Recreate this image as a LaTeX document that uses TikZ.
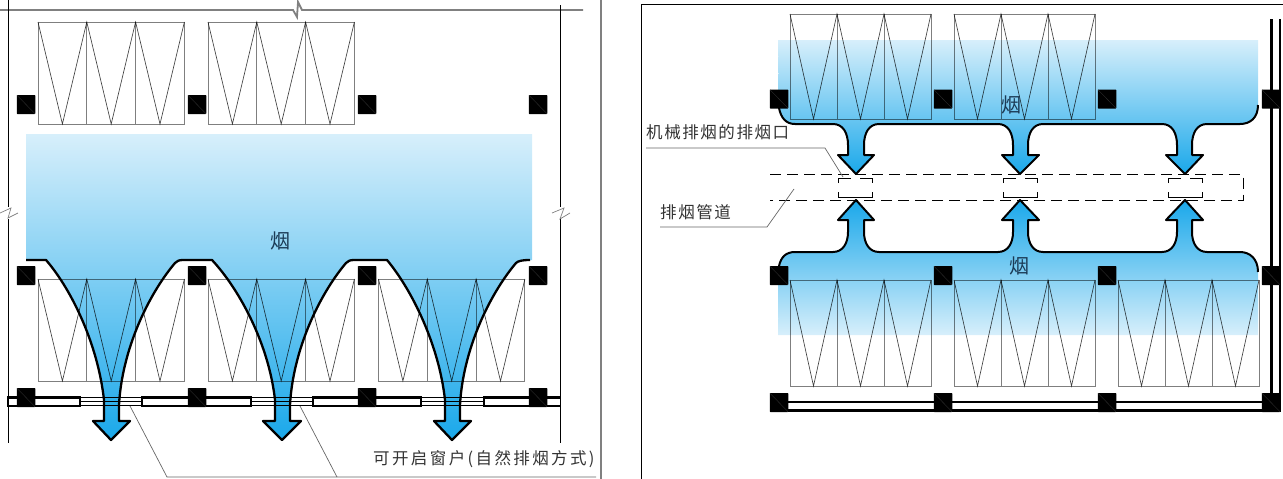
\documentclass[tikz,border=0pt]{standalone}
\usepackage{fontspec}
\newfontfamily\cjkfont{Noto Sans CJK SC}
\newfontfamily\cjklabel[LetterSpace=9.5]{Noto Sans CJK SC}
\newfontfamily\cjkwide[LetterSpace=14.5]{Noto Sans CJK SC}
\definecolor{smoketop}{HTML}{D7EFFB}
\definecolor{smokebot}{HTML}{1AA8EA}
\definecolor{frameline}{HTML}{808080}
\definecolor{smoketext}{HTML}{1B3A55}
\tikzset{
pillar/.style={fill=black,inner sep=0pt,minimum width=18.5pt,minimum height=19pt,rounded corners=0.6pt,
  path picture={\draw[black!82!white,line width=0.4pt] (path picture bounding box.north west)--(path picture bounding box.south east);}},
cabline/.style={black,draw opacity=0.5,line width=0.9pt},
zigline/.style={black,draw opacity=0.75,line width=0.65pt},
smokeline/.style={black,line width=2.3pt,line join=round},
wallline/.style={black,line width=2.4pt},
thinline/.style={black,line width=0.6pt},
leaderline/.style={black!60,line width=0.7pt},
dashline/.style={black,line width=0.9pt,dash pattern=on 11pt off 6pt},
labeltext/.style={inner sep=0pt,font=\cjklabel\fontsize{16.5}{18}\selectfont,text=black!80},
smoketxt/.style={inner sep=0pt,font=\cjkfont\fontsize{20}{20}\selectfont,text=smoketext}
}
% one cabinet row: left, top, half panel width, height
\newcommand{\cabinet}[4]{
\begin{scope}[shift={(#1,#2)},x=#3pt,y=-#4pt]
\draw[cabline] (0,0) rectangle (6,1);\draw[cabline] (2,0)--(2,1);\draw[cabline] (4,0)--(4,1);
\draw[zigline] (0,0)--(1,1)--(2,0)--(3,1)--(4,0)--(5,1)--(6,0);
\end{scope}}
% lower edge of the smoke in the left half
\newcommand{\smokeleft}{(26,260)--(46,260)
.. controls (72,290) and (98,345) .. (104,400)--(104,421)--(93,421)--(111,440)--(130,421)--(119,421)--(119,405)
.. controls (122,350) and (148,295) .. (175,263) .. controls (177,261) and (179,260) .. (183,260)--(212,260)
.. controls (240,290) and (269,345) .. (275,400)--(275,421)--(263,421)--(282,440)--(301,421)--(290,421)--(290,405)
.. controls (293,350) and (319,295) .. (346,263) .. controls (348,261) and (350,260) .. (354,260)--(387,260)
.. controls (412,290) and (439,345) .. (445,400)--(445,421)--(434,421)--(452,440)--(471,421)--(460,421)--(460,405)
.. controls (463,350) and (489,295) .. (516,263) .. controls (518,261) and (522,260) .. (530,260)}
% lower edge of the smoke at the top of the right half
\newcommand{\smokeupper}{(779,108) .. controls (781,118) and (786,124) .. (795,124)--(833,124)
.. controls (843,124) and (848,133) .. (848,145)--(848,155)--(838,155)--(856,174)--(874,155)--(864,155)--(864,145)
.. controls (864,133) and (869,124) .. (879,124)--(998,124)
.. controls (1008,124) and (1013,133) .. (1013,145)--(1013,155)--(1002,155)--(1020,174)--(1039,155)--(1028,155)--(1028,145)
.. controls (1028,133) and (1033,124) .. (1043,124)--(1162,124)
.. controls (1172,124) and (1177,133) .. (1177,145)--(1177,155)--(1166,155)--(1185,174)--(1203,155)--(1192,155)--(1192,145)
.. controls (1192,133) and (1197,124) .. (1207,124)--(1240,124) .. controls (1250,124) and (1258,118) .. (1258,105)}
% upper edge of the smoke at the bottom of the right half
\newcommand{\smokelower}{(779,266) .. controls (781,257) and (786,252) .. (795,252)--(833,252)
.. controls (843,252) and (848,243) .. (848,232)--(848,220)--(838,220)--(856,200)--(874,220)--(864,220)--(864,232)
.. controls (864,243) and (869,252) .. (879,252)--(998,252)
.. controls (1008,252) and (1013,243) .. (1013,232)--(1013,220)--(1002,220)--(1020,200)--(1039,220)--(1028,220)--(1028,232)
.. controls (1028,243) and (1033,252) .. (1043,252)--(1162,252)
.. controls (1172,252) and (1177,243) .. (1177,232)--(1177,220)--(1166,220)--(1185,200)--(1203,220)--(1192,220)--(1192,232)
.. controls (1192,243) and (1197,252) .. (1207,252)--(1240,252) .. controls (1250,252) and (1258,259) .. (1258,272)}
\begin{document}
\begin{tikzpicture}[x=1pt,y=-1pt]
\useasboundingbox (0,0) rectangle (1283,479);
% smoke
\shade[top color=smoketop,bottom color=smokebot] (26,134)--\smokeleft--(532,260)--(532,134)--cycle;
\shade[top color=smoketop,bottom color=smokebot] (778,40)--\smokeupper--(1258,40)--cycle;
\shade[top color=smokebot,bottom color=smoketop] (778,335)--\smokelower--(1258,335)--cycle;
% frame of the left half
\draw[frameline,line width=1.8pt] (0,10)--(293,10)--(297,17)--(298,2)--(302,10)--(583,10);
\draw[thinline,line width=0.9pt] (8,0)--(8,207);\draw[thinline,line width=0.9pt] (8,219)--(8,443);
\draw[thinline,line width=0.9pt] (560.5,5)--(560.5,207);\draw[thinline,line width=0.9pt] (560.5,219)--(560.5,443);
\draw[frameline,line width=0.7pt] (0,213)--(11,208)--(8,218)--(18,213);
\draw[frameline,line width=0.7pt] (552,213)--(564,208)--(560,219)--(570,213);
\draw[frameline,line width=2pt] (600.7,0)--(600.7,479);
% frame of the right half
\draw[black,line width=1.2pt] (641.7,479)--(641.7,4.5)--(1283,4.5);
% cabinets
\cabinet{38}{22}{24.4}{102}\cabinet{208}{22}{24.4}{102}
\cabinet{38}{279}{24.4}{102}\cabinet{208}{279}{24.4}{102}\cabinet{378.5}{279}{24.4}{102}
\cabinet{790}{14}{23.5}{105}\cabinet{954}{14}{23.5}{105}
\cabinet{790}{280}{23.5}{106}\cabinet{954}{280}{23.5}{106}\cabinet{1118}{280}{23.5}{106}
% window wall, left half
\draw[thinline] (80,397)--(142,397);\draw[thinline] (80,401.5)--(142,401.5);\draw[thinline] (80,405.7)--(142,405.7);
\draw[thinline] (251,397)--(313,397);\draw[thinline] (251,401.5)--(313,401.5);\draw[thinline] (251,405.7)--(313,405.7);
\draw[thinline] (421,397)--(484,397);\draw[thinline] (421,401.5)--(484,401.5);\draw[thinline] (421,405.7)--(484,405.7);
\draw[wallline] (8,397.5) rectangle (80,406);\draw[wallline] (142,397.5) rectangle (251,406);
\draw[wallline] (313,397.5) rectangle (421,406);\draw[wallline] (560,397.5)--(484,397.5)--(484,406)--(560,406);
% wall, right half
\draw[wallline] (779,402)--(1271,402);\draw[wallline] (779,410.5)--(1271,410.5);
\draw[wallline] (1271.5,19)--(1271.5,411.5);\draw[wallline] (1280,19)--(1280,411.5);
% smoke edges
\draw[smokeline] \smokeleft;
\draw[smokeline,line width=2pt] \smokeupper;
\draw[smokeline,line width=2pt] \smokelower;
% pillars
\node[pillar] (p1) at (26,104.5){};\node[pillar] (p2) at (197,104.5){};\node[pillar] (p3) at (367,104.5){};\node[pillar] (p4) at (538,104.5){};
\node[pillar] (p5) at (26,275.5){};\node[pillar] (p6) at (197,275.5){};\node[pillar] (p7) at (367,275.5){};\node[pillar] (p8) at (538,275.5){};
\node[pillar] (p9) at (26,397.5){};\node[pillar] (p10) at (197,397.5){};\node[pillar] (p11) at (367,397.5){};\node[pillar] (p12) at (538,397.5){};
\node[pillar] (q1) at (779,99){};\node[pillar] (q2) at (943,99){};\node[pillar] (q3) at (1107,99){};\node[pillar] (q4) at (1271,99){};
\node[pillar] (q5) at (779,275.5){};\node[pillar] (q6) at (943,275.5){};\node[pillar] (q7) at (1107,275.5){};\node[pillar] (q8) at (1271,275.5){};
\node[pillar] (q9) at (779,402.5){};\node[pillar] (q10) at (943,402.5){};\node[pillar] (q11) at (1107,402.5){};\node[pillar] (q12) at (1271,402.5){};
% smoke duct
\draw[dashline] (770,174.5)--(1243,174.5)--(1243,200.5)--(770,200.5);
\draw[dashline,line width=0.7pt,dash pattern=on 18pt off 9pt] (838,183)--(838,178)--(872,178)--(872,183);
\draw[dashline,line width=0.7pt,dash pattern=on 18pt off 9pt] (1003,183)--(1003,178)--(1037,178)--(1037,183);
\draw[dashline,line width=0.7pt,dash pattern=on 18pt off 9pt] (1168,183)--(1168,178)--(1202,178)--(1202,183);
\draw[thinline] (838,192)--(838,197)--(872,197)--(872,192);
\draw[thinline] (1003,192)--(1003,197)--(1037,197)--(1037,192);
\draw[thinline] (1168,192)--(1168,197)--(1202,197)--(1202,192);
% labels
\node[smoketxt] (smokea) at (280,241){烟};
\node[smoketxt] (smokeb) at (1011,105){烟};
\node[smoketxt] (smokec) at (1019,266){烟};
\node[labeltext,font=\cjkwide\fontsize{16.5}{18}\selectfont,anchor=west] (openlabel) at (373,459){可开启窗户(自然排烟方式)};
\node[labeltext,anchor=west] (ventlabel) at (646,132){机械排烟的排烟口};
\node[labeltext,anchor=west] (ductlabel) at (660,212){排烟管道};
% leaders
\coordinate (wa) at (130,406);\coordinate (wb) at (300,406);\coordinate (wc) at (167,477);\coordinate (wd) at (337,477);\coordinate (we) at (596,477);
\draw[leaderline] (wa)--(wc)--(we);\draw[leaderline] (wb)--(wd);
\coordinate (va) at (646,148);\coordinate (vb) at (825,148);\coordinate (vc) at (843,177);
\draw[leaderline] (va)--(vb)--(vc);
\coordinate (da) at (660,227);\coordinate (db) at (767,227);\coordinate (dc) at (794,189);
\draw[leaderline] (da)--(db)--(dc);
\end{tikzpicture}
\end{document}
